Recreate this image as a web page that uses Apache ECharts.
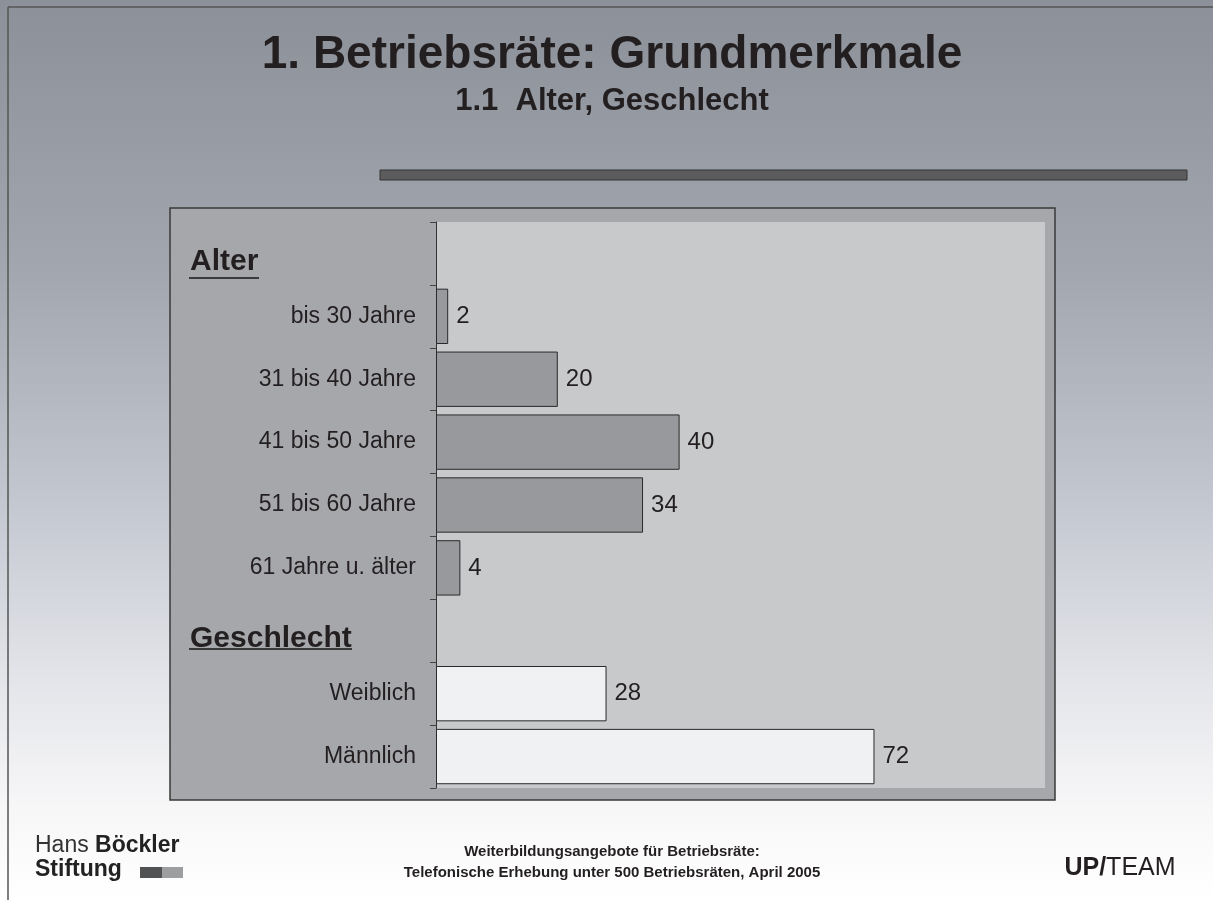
<!DOCTYPE html>
<html>
<head>
<meta charset="utf-8">
<script src="https://cdn.jsdelivr.net/npm/echarts@6/dist/echarts.min.js"></script>
<style>
  html, body { margin: 0; padding: 0; background: #fff; }
  #chart { width: 1213px; height: 900px; }
</style>
</head>
<body>
<div id="chart"></div>
<script>
// Kategorien (Überschriften ohne Balken)
var categories = ['Alter', 'bis 30 Jahre', '31 bis 40 Jahre', '41 bis 50 Jahre', '51 bis 60 Jahre',
  '61 Jahre u. älter', 'Geschlecht', 'Weiblich', 'Männlich'];
var headers = ['Alter', 'Geschlecht'];
// Werte in Prozent
var alterValues = [null, 2, 20, 40, 34, 4, null, null, null];
var geschlechtValues = [null, null, null, null, null, null, null, 28, 72];

var font = '"Liberation Sans", Arial, Helvetica, sans-serif';
var textColor = '#231f20';

var chart = echarts.init(document.getElementById('chart'), null, { renderer: 'canvas' });

var labelStyle = {
  show: true,
  position: 'right',
  distance: 8,
  fontFamily: font,
  fontSize: 24,
  color: textColor,
  formatter: function (p) { return p.value == null ? '' : p.value; }
};

var option = {
  animation: false,
  backgroundColor: {
    type: 'linear', x: 0, y: 0, x2: 0, y2: 1,
    colorStops: [
      { offset: 0, color: '#8c9199' },
      { offset: 0.3, color: '#a2a7af' },
      { offset: 0.55, color: '#c2c6cf' },
      { offset: 0.75, color: '#e3e4e9' },
      { offset: 0.9, color: '#f7f7f8' },
      { offset: 1, color: '#ffffff' }
    ]
  },
  graphic: [
    // Rahmenlinien
    { type: 'line', shape: { x1: 8, y1: 7, x2: 1213, y2: 7 }, style: { stroke: '#555', lineWidth: 1.5 } },
    { type: 'line', shape: { x1: 8, y1: 7, x2: 8, y2: 900 }, style: { stroke: '#555', lineWidth: 1.5 } },
    // Titel
    { type: 'text', x: 612, y: 55, style: { text: '1. Betriebsräte: Grundmerkmale', fontFamily: font, fontWeight: 'bold', fontSize: 46, fill: textColor, align: 'center', verticalAlign: 'middle' } },
    { type: 'text', x: 612, y: 101, style: { text: '1.1  Alter, Geschlecht', fontFamily: font, fontWeight: 'bold', fontSize: 31, fill: textColor, align: 'center', verticalAlign: 'middle' } },
    // dunkler Balken
    { type: 'rect', shape: { x: 380, y: 170, width: 807, height: 10 }, style: { fill: '#5c5c5e', stroke: '#333', lineWidth: 1 } },
    // Diagrammrahmen
    { type: 'rect', z: -1, shape: { x: 170, y: 208, width: 885, height: 592 }, style: { fill: '#a6a7ab', stroke: '#3a3a3a', lineWidth: 1.5 } },
    // Unterstreichungen
    { type: 'line', z: 10, shape: { x1: 189, y1: 278, x2: 259, y2: 278 }, style: { stroke: '#3a3a3a', lineWidth: 2 } },
    { type: 'line', z: 10, shape: { x1: 189, y1: 649, x2: 352, y2: 649 }, style: { stroke: '#3a3a3a', lineWidth: 2 } },
    // Fußzeile
    { type: 'text', x: 35, y: 846, style: { text: '{a|Hans }{b|Böckler}', rich: { a: { fontFamily: font, fontSize: 23, fill: '#333' }, b: { fontFamily: font, fontSize: 23, fontWeight: 'bold', fill: '#222' } }, verticalAlign: 'middle' } },
    { type: 'text', x: 35, y: 870, style: { text: 'Stiftung', fontFamily: font, fontSize: 23, fontWeight: 'bold', fill: '#222', verticalAlign: 'middle' } },
    { type: 'rect', shape: { x: 140, y: 867, width: 22, height: 11 }, style: { fill: '#505254' } },
    { type: 'rect', shape: { x: 162, y: 867, width: 21, height: 11 }, style: { fill: '#9c9ea0' } },
    { type: 'text', x: 612, y: 852, style: { text: 'Weiterbildungsangebote für Betriebsräte:', fontFamily: font, fontSize: 15, fontWeight: 'bold', fill: textColor, align: 'center', verticalAlign: 'middle' } },
    { type: 'text', x: 612, y: 873, style: { text: 'Telefonische Erhebung unter 500 Betriebsräten, April 2005', fontFamily: font, fontSize: 15, fontWeight: 'bold', fill: textColor, align: 'center', verticalAlign: 'middle' } },
    { type: 'text', x: 1120, y: 868, style: { text: '{a|UP/}{b|TEAM}', rich: { a: { fontFamily: font, fontSize: 25, fontWeight: 'bold', fill: textColor }, b: { fontFamily: font, fontSize: 25, fill: textColor } }, align: 'center', verticalAlign: 'middle' } }
  ],
  grid: {
    left: 436, top: 222, width: 609, height: 566,
    show: true, backgroundColor: '#c8c9cb', borderWidth: 0
  },
  xAxis: {
    type: 'value', min: 0, max: 100,
    show: false, splitLine: { show: false }
  },
  yAxis: {
    type: 'category',
    inverse: true,
    data: categories,
    axisLine: { show: true, lineStyle: { color: '#333', width: 1 } },
    axisTick: { show: true, length: 6, lineStyle: { color: '#444' } },
    axisLabel: {
      margin: 20,
      formatter: function (v) {
        return headers.indexOf(v) >= 0 ? '{h|' + v + '}' : '{n|' + v + '}';
      },
      rich: {
        n: { fontFamily: font, fontSize: 23, color: textColor },
        h: { fontFamily: font, fontSize: 30, fontWeight: 'bold', color: textColor, width: 226, align: 'left', padding: [16, 0, 0, 0] }
      }
    }
  },
  series: [
    {
      name: 'Alter', type: 'bar', data: alterValues,
      barCategoryGap: '12%', barGap: '-100%',
      itemStyle: { color: '#98999d', borderColor: '#2a2a2a', borderWidth: 1 },
      label: labelStyle
    },
    {
      name: 'Geschlecht', type: 'bar', data: geschlechtValues,
      barCategoryGap: '12%', barGap: '-100%',
      itemStyle: { color: '#f0f1f3', borderColor: '#2a2a2a', borderWidth: 1 },
      label: labelStyle
    }
  ]
};

chart.setOption(option);
</script>
</body>
</html>
